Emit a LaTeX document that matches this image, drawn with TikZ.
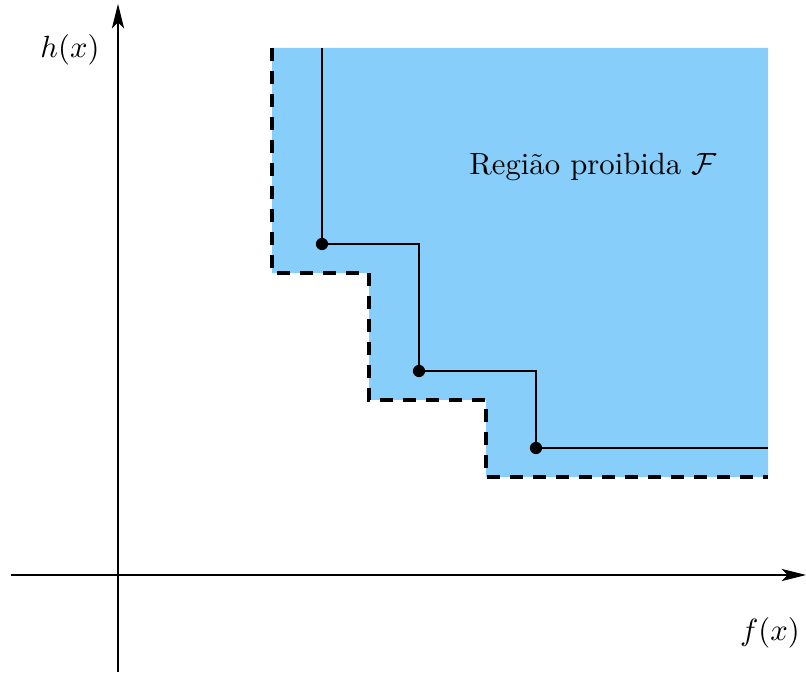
\documentclass[tikz,border=0pt]{standalone}
\usetikzlibrary{arrows.meta}
\definecolor{forbid}{RGB}{135,206,250}
\begin{document}
\begin{tikzpicture}[x=0.326pt,y=-0.326pt,
  axis/.style={line width=0.35pt,-{Stealth[length=8pt,width=4pt,inset=2pt]}},
  bound/.style={line width=1pt,dash pattern=on 4.3pt off 3.2pt},
  path/.style={line width=0.35pt},
  dot/.style={circle,fill=black,inner sep=0pt,minimum size=4pt}]
\useasboundingbox (0,0) rectangle (806,673);
% corner coordinates
\coordinate (c0) at (272,48);
\coordinate (c1) at (272,273);
\coordinate (c2) at (369,273);
\coordinate (c3) at (369,400);
\coordinate (c4) at (486,400);
\coordinate (c5) at (486,477);
\coordinate (c6) at (768,477);
\coordinate (c7) at (768,48);
\fill[forbid] (c0) -- (c1) -- (c2) -- (c3) -- (c4) -- (c5) -- (c6) -- (c7) -- cycle;
\draw[bound] (c0) -- (c1) -- (c2) -- (c3) -- (c4) -- (c5) -- (c6);
% axes
\coordinate (xs) at (11,575);
\coordinate (xe) at (806,575);
\coordinate (ys) at (118,672);
\coordinate (ye) at (118,4);
\draw[axis] (xs) -- (xe);
\draw[axis] (ys) -- (ye);
\node (hl) at (70,50) {$h(x)$};
\node (fl) at (770,633) {$f(x)$};
% points and path
\node[dot] (p1) at (322,244) {};
\node[dot] (p2) at (419,371) {};
\node[dot] (p3) at (536,448) {};
\coordinate (t1) at (322,48);
\coordinate (k1) at (419,244);
\coordinate (k2) at (536,371);
\coordinate (t2) at (768,448);
\draw[path] (t1) -- (p1.center) -- (k1) -- (p2.center) -- (k2) -- (p3.center) -- (t2);
\node (lab) at (593,167) {Região proibida $\mathcal{F}$};
\end{tikzpicture}
\end{document}
